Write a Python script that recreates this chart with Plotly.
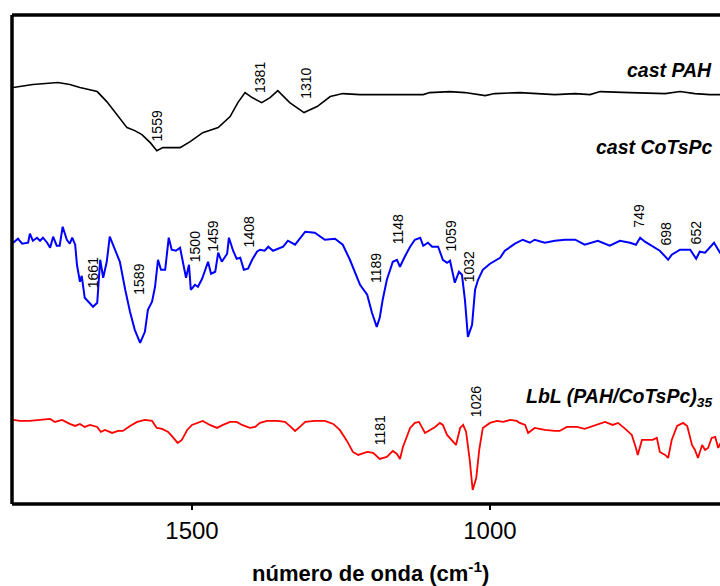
import plotly.graph_objects as go

# ---- data (wavenumber in cm-1, intensity in arbitrary units with vertical offsets) ----
pah_wn = [1800, 1767, 1725, 1705, 1688, 1659, 1643, 1626, 1609, 1596, 1584, 1570, 1559, 1549,
          1520, 1503, 1482, 1456, 1436, 1423, 1411, 1399, 1383, 1369, 1356, 1336, 1312, 1290,
          1268, 1247, 1218, 1193, 1112, 1101, 1067, 1042, 1008, 992, 950, 891, 857, 832, 815,
          765, 706, 681, 656, 631, 614, 600]
pah_int = [416, 419, 421, 419, 416, 412, 402, 389, 376, 373, 369, 361, 353, 356,
           356, 362, 371, 376, 387, 401, 411, 406, 401, 406, 413, 401, 391, 397,
           407, 410, 409, 409, 409, 411, 412, 411, 408, 410, 411, 409, 410, 409, 412,
           411, 410, 412, 410, 409, 409, 409]

cotspc_wn = [1800, 1792, 1785, 1775, 1772, 1767, 1760, 1755, 1750, 1743, 1738, 1733, 1727, 1722,
             1717, 1710, 1705, 1701, 1696, 1693, 1688, 1685, 1680, 1675, 1666, 1659, 1654, 1649,
             1643, 1638, 1629, 1621, 1612, 1604, 1596, 1587, 1579, 1574, 1567, 1562, 1557, 1552,
             1545, 1539, 1534, 1527, 1520, 1515, 1510, 1505, 1502, 1495, 1490, 1483, 1473, 1468,
             1461, 1456, 1450, 1441, 1438, 1431, 1425, 1419, 1413, 1406, 1399, 1391, 1386, 1378,
             1372, 1364, 1347, 1339, 1327, 1310, 1294, 1277, 1260, 1247, 1235, 1218, 1206, 1198,
             1190, 1185, 1180, 1173, 1163, 1156, 1151, 1143, 1134, 1126, 1117, 1112, 1104, 1097,
             1087, 1079, 1072, 1067, 1059, 1052, 1047, 1042, 1037, 1030, 1025, 1020, 1012, 1000,
             983, 975, 958, 945, 933, 925, 908, 891, 874, 857, 841, 819, 799, 782, 765, 755, 748,
             740, 728, 715, 701, 695, 681, 664, 654, 648, 639, 631, 624, 617, 614, 600]
cotspc_int = [261, 265, 260, 261, 270, 263, 266, 263, 266, 261, 256, 267, 258, 258,
              277, 264, 260, 266, 259, 239, 222, 228, 206, 203, 197, 201, 244, 226,
              242, 267, 254, 242, 214, 192, 174, 161, 172, 194, 202, 217, 244, 234,
              234, 266, 254, 253, 256, 239, 226, 239, 214, 219, 217, 225, 242, 230,
              232, 251, 242, 250, 266, 253, 245, 246, 234, 235, 244, 252, 254, 253,
              257, 253, 257, 263, 259, 272, 271, 264, 265, 259, 244, 219, 209, 191,
              177, 186, 204, 224, 242, 244, 237, 247, 257, 264, 266, 258, 261, 257,
              257, 244, 241, 243, 221, 232, 229, 204, 167, 179, 214, 224, 234, 240,
              246, 253, 260, 264, 261, 264, 261, 263, 264, 264, 259, 263, 258, 263, 261, 259, 266,
              262, 258, 253, 244, 249, 254, 254, 245, 252, 251, 256, 261, 254, 251, 251]

lbl_wn = [1800, 1789, 1772, 1755, 1738, 1730, 1718, 1705, 1696, 1688, 1680, 1671, 1659, 1653,
          1646, 1634, 1624, 1616, 1604, 1592, 1579, 1567, 1559, 1550, 1540, 1534, 1524, 1517,
          1508, 1500, 1492, 1482, 1470, 1458, 1448, 1436, 1425, 1416, 1403, 1394, 1386, 1374,
          1357, 1344, 1336, 1327, 1319, 1310, 1294, 1277, 1263, 1252, 1240, 1230, 1221, 1206,
          1196, 1185, 1173, 1163, 1156, 1151, 1146, 1134, 1126, 1119, 1109, 1101, 1092, 1084,
          1079, 1072, 1064, 1057, 1050, 1045, 1040, 1034, 1029, 1023, 1018, 1012, 1000, 988,
          978, 966, 955, 950, 941, 936, 925, 908, 891, 883, 871, 854, 841, 832, 815, 807, 794,
          785, 773, 762, 755, 752, 745, 735, 727, 720, 715, 706, 701, 695, 686, 676, 669, 661,
          656, 651, 644, 639, 634, 628, 622, 617, 614, 600]
lbl_int = [84, 83, 83, 84, 85, 82, 84, 80, 78, 80, 77, 79, 77, 72,
           74, 71, 73, 73, 78, 82, 84, 83, 76, 75, 72, 68, 61, 64,
           74, 79, 81, 83, 79, 76, 79, 82, 82, 79, 76, 77, 81, 83,
           83, 82, 78, 73, 77, 82, 83, 83, 80, 74, 63, 52, 49, 52,
           51, 45, 47, 53, 50, 45, 57, 76, 81, 82, 71, 74, 77, 81,
           79, 69, 64, 59, 76, 79, 72, 44, 14, 26, 54, 76, 81, 83,
           82, 84, 83, 81, 79, 71, 76, 74, 73, 73, 77, 77, 75, 77, 81, 82, 79,
           81, 75, 69, 56, 49, 64, 64, 64, 66, 52, 49, 46, 64, 78, 81, 78, 59,
           54, 46, 59, 54, 56, 66, 67, 56, 60, 60]

# peak labels: (text, x position in cm-1, y position in intensity units)
peak_labels = [
    ("1559", 1559, 378), ("1381", 1386, 426.5), ("1310", 1310, 420),
    ("1661", 1667, 231), ("1589", 1589, 225), ("1500", 1495, 257.5), ("1459", 1464, 267.5),
    ("1408", 1404, 271.5), ("1189", 1190, 235.5), ("1148", 1155, 274), ("1059", 1065, 267.5),
    ("1032", 1035, 236.5), ("749", 750, 288), ("698", 704, 270.5), ("652", 654, 271.5),
    ("1181", 1183, 73.5), ("1026", 1023, 102),
]
series_names = [
    ("<b><i>cast PAH</i></b>", 434),
    ("<b><i>cast CoTsPc</i></b>", 357),
    ("<b><i>LbL (PAH/CoTsPc)<sub>35</sub></i></b>", 106),
]
x_ticks = [1500, 1000]

FONT = "Arial, 'Liberation Sans', sans-serif"

fig = go.Figure()
fig.add_trace(go.Scatter(x=pah_wn, y=pah_int, mode="lines",
                         line=dict(color="black", width=1.6), showlegend=False))
fig.add_trace(go.Scatter(x=cotspc_wn, y=cotspc_int, mode="lines",
                         line=dict(color="#0000ff", width=2), showlegend=False))
fig.add_trace(go.Scatter(x=lbl_wn, y=lbl_int, mode="lines",
                         line=dict(color="#ff0000", width=1.8), showlegend=False))

annotations = []
for txt, xv, yv in peak_labels:
    annotations.append(dict(x=xv, y=yv, xref="x", yref="y", text=txt, showarrow=False,
                            textangle=-90, font=dict(family=FONT, size=14, color="black"),
                            xanchor="center", yanchor="middle"))
for txt, yv in series_names:
    annotations.append(dict(x=0.992, y=yv, xref="paper", yref="y", text=txt, showarrow=False,
                            font=dict(family=FONT, size=19.5, color="black"),
                            xanchor="right", yanchor="middle"))
annotations.append(dict(x=0.506, y=-0.140, xref="paper", yref="paper",
                        text="<b>número de onda (cm<sup>-1</sup>)</b>", showarrow=False,
                        font=dict(family=FONT, size=22, color="black"),
                        xanchor="center", yanchor="middle"))

shapes = [
    dict(type="line", xref="paper", yref="paper", x0=0, x1=0, y0=0, y1=1,
         line=dict(color="black", width=3.5)),
    dict(type="line", xref="paper", yref="paper", x0=0, x1=1.01, y0=1, y1=1,
         line=dict(color="black", width=3.5)),
    dict(type="line", xref="paper", yref="paper", x0=0, x1=1.01, y0=0, y1=0,
         line=dict(color="black", width=3.5)),
]

fig.update_layout(
    width=720, height=586,
    margin=dict(l=12, r=0, t=15, b=82),
    paper_bgcolor="white", plot_bgcolor="white",
    xaxis=dict(range=[1802, 614], tickvals=x_ticks, ticks="outside", ticklen=5,
               tickwidth=2, tickcolor="black", showgrid=False, zeroline=False,
               showline=False, tickfont=dict(family=FONT, size=24, color="black")),
    yaxis=dict(range=[0, 488.5], visible=False, showgrid=False, zeroline=False),
    annotations=annotations, shapes=shapes,
)

fig.write_html("out.html")
